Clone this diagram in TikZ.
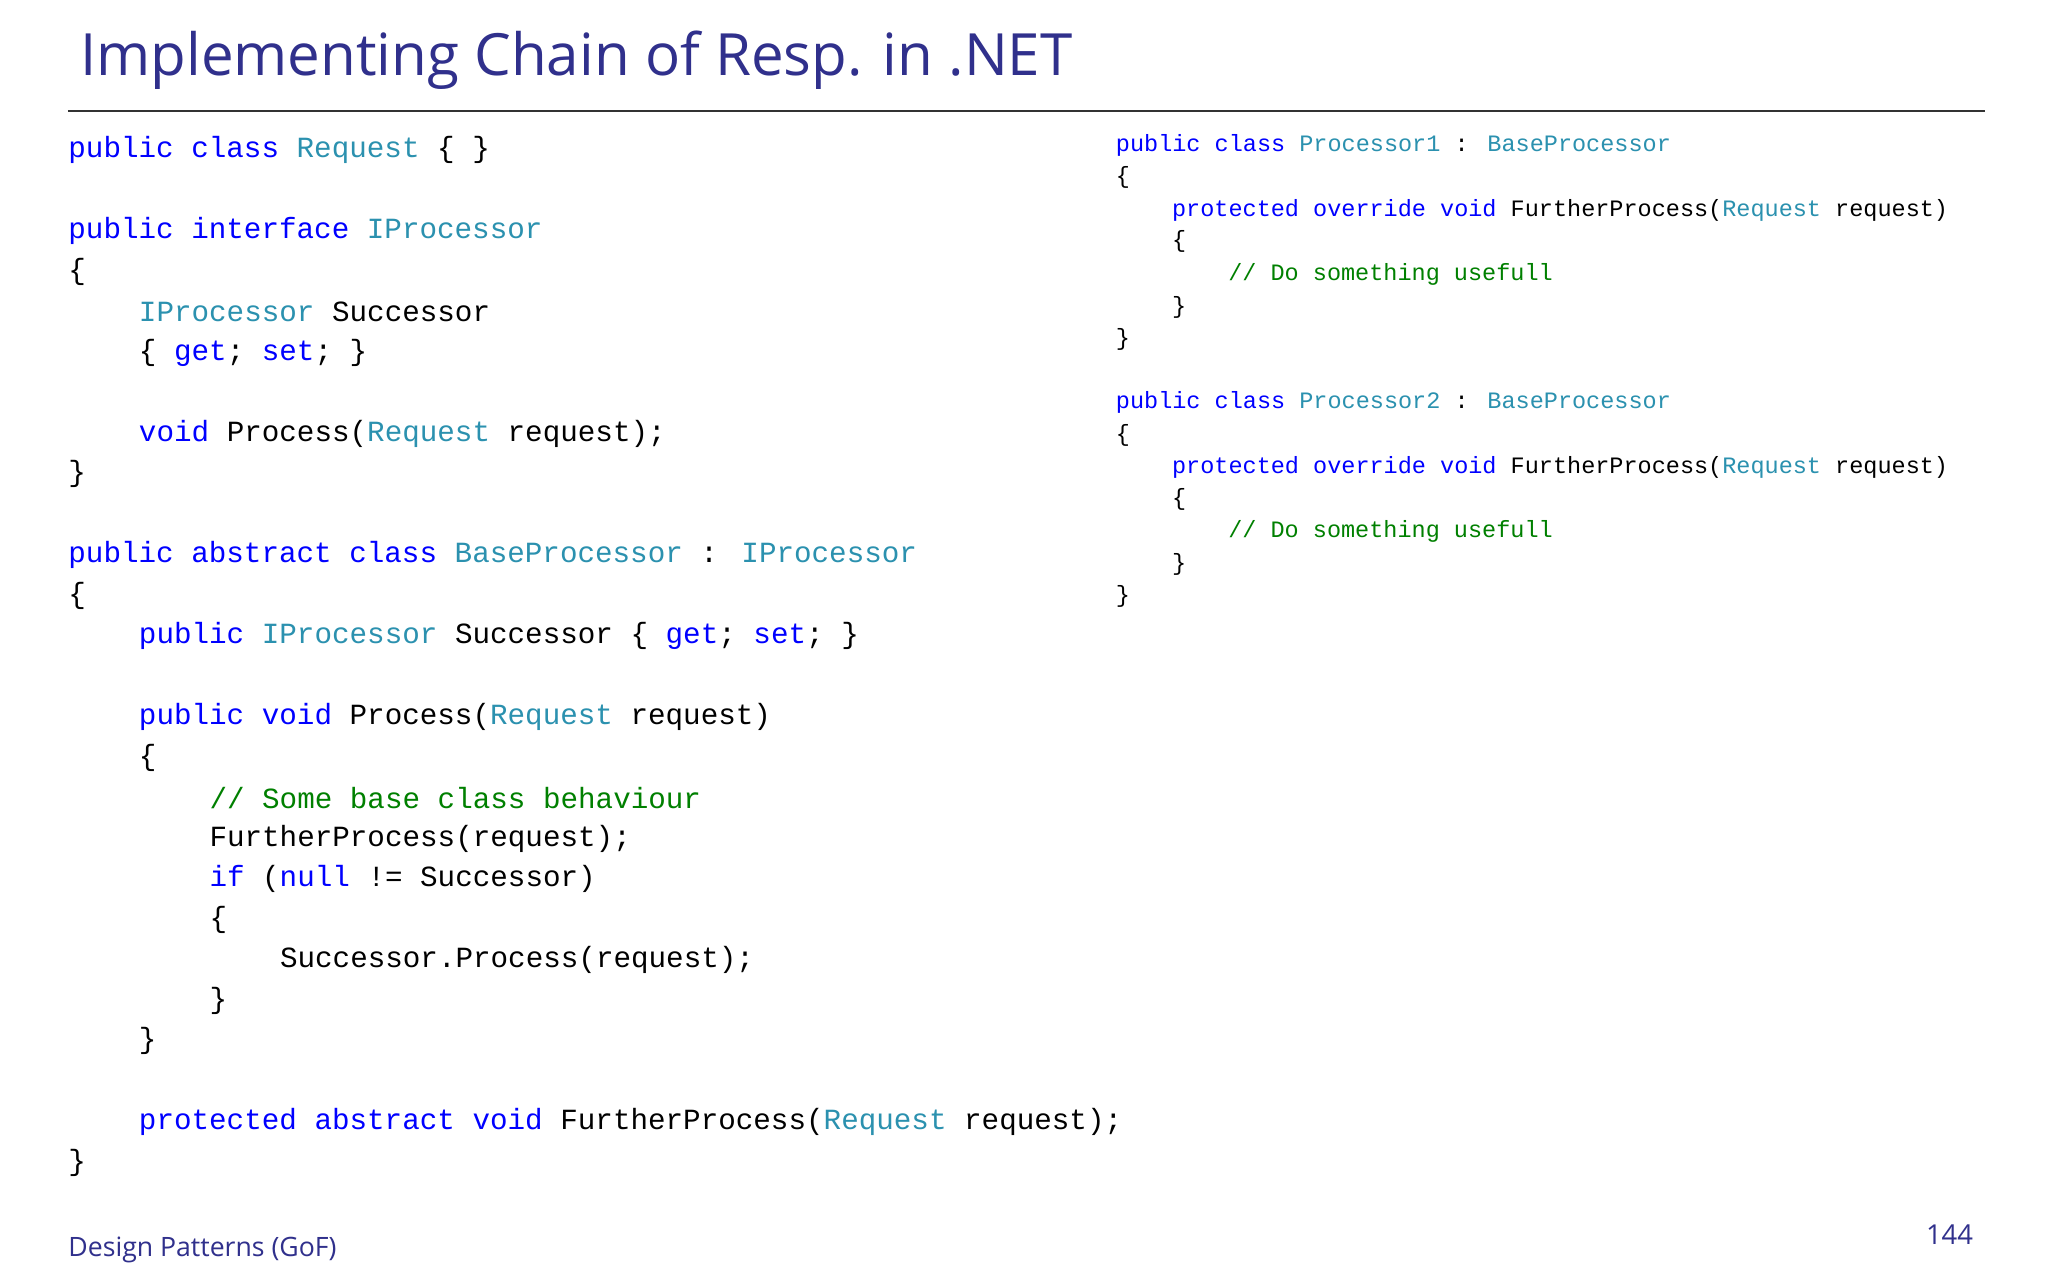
\documentclass[tikz,border=0pt]{standalone}
\usepackage{fontspec}
\setmainfont{Open Sans}
\newfontfamily\codefont{Liberation Mono}
\definecolor{ttl}{RGB}{48,48,140}
\definecolor{kwc}{RGB}{0,0,255}
\definecolor{tyc}{RGB}{43,145,175}
\definecolor{cmc}{RGB}{0,128,0}
\newcommand{\kw}[1]{\textcolor{kwc}{#1}}
\newcommand{\ty}[1]{\textcolor{tyc}{#1}}
\newcommand{\cmt}[1]{\textcolor{cmc}{#1}}
\tikzset{
  lc/.style={anchor=west,inner sep=0pt,font=\codefont\fontsize{11.2}{13}\selectfont},
  rc/.style={anchor=west,inner sep=0pt,font=\codefont\fontsize{9}{11}\selectfont}
}
\begin{document}
\begin{tikzpicture}[x=0.5pt,y=-0.5pt]
\useasboundingbox[fill=white] (0,0) rectangle (1568,980);
\node[anchor=west,inner sep=0pt,text=ttl,font=\fontsize{22.3}{26}\selectfont] (title) at (61,46) {Implementing Chain of Resp. in .NET};
\draw[line width=0.8pt,black!80] (52,85) -- (1520,85);
% left code
\node[lc] (l1) at (52,115) {\kw{public class} \ty{Request} \{ \}};
\node[lc] (l2) at (52,177) {\kw{public interface} \ty{IProcessor}};
\node[lc] (l3) at (52,208) {\{};
\node[lc] (l4) at (106,239) {\ty{IProcessor} Successor};
\node[lc] (l5) at (106,270) {\{ \kw{get}; \kw{set}; \}};
\node[lc] (l6) at (106,332) {\kw{void} Process(\ty{Request} request);};
\node[lc] (l7) at (52,363) {\}};
\node[lc] (l8) at (52,425) {\kw{public abstract class} \ty{BaseProcessor} : \ty{IProcessor}};
\node[lc] (l9) at (52,456) {\{};
\node[lc] (l10) at (106,487) {\kw{public} \ty{IProcessor} Successor \{ \kw{get}; \kw{set}; \}};
\node[lc] (l11) at (106,549) {\kw{public void} Process(\ty{Request} request)};
\node[lc] (l12) at (106,580) {\{};
\node[lc] (l13) at (160,611) {\cmt{// Some base class behaviour}};
\node[lc] (l14) at (160,642) {FurtherProcess(request);};
\node[lc] (l15) at (160,673) {\kw{if} (\kw{null} != Successor)};
\node[lc] (l16) at (160,704) {\{};
\node[lc] (l17) at (214,735) {Successor.Process(request);};
\node[lc] (l18) at (160,766) {\}};
\node[lc] (l19) at (106,797) {\}};
\node[lc] (l20) at (106,859) {\kw{protected abstract void} FurtherProcess(\ty{Request} request);};
\node[lc] (l21) at (52,890) {\}};
% right code
\foreach \n/\off in {1/0,2/197}{
\node[rc] at (854,111+\off) {\kw{public class} \ty{Processor\n} : \ty{BaseProcessor}};
\node[rc] at (854,136+\off) {\{};
\node[rc] at (897,161+\off) {\kw{protected override void} FurtherProcess(\ty{Request} request)};
\node[rc] at (897,185+\off) {\{};
\node[rc] at (940,210+\off) {\cmt{// Do something usefull}};
\node[rc] at (897,235+\off) {\}};
\node[rc] at (854,260+\off) {\}};
}
\node[anchor=west,inner sep=0pt,text=ttl,font=\fontsize{10.2}{12}\selectfont] (foot) at (52,957) {Design Patterns (GoF)};
\node[anchor=east,inner sep=0pt,text=ttl,font=\fontsize{10.5}{12}\selectfont] (pg) at (1511,945) {144};
\end{tikzpicture}
\end{document}
